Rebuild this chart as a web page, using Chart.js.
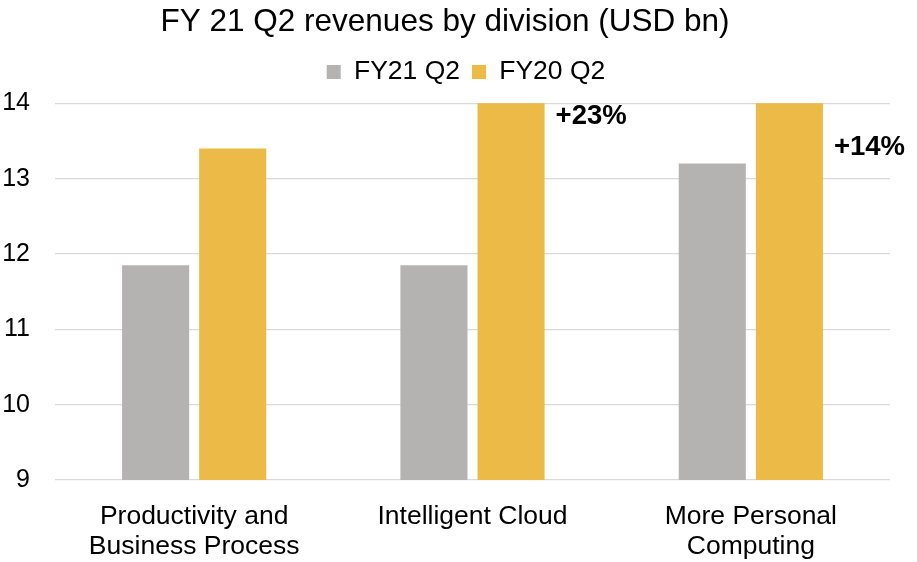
<!DOCTYPE html>
<html>
<head>
<meta charset="utf-8">
<script src="https://cdn.jsdelivr.net/npm/chart.js@4/dist/chart.umd.min.js"></script>
<style>
html,body{margin:0;padding:0;background:#fff;}
#wrap{width:917px;height:562px;}
</style>
</head>
<body>
<div id="wrap"><canvas id="c" width="917" height="562"></canvas></div>
<script>
const categories = [["Productivity and","Business Process"],"Intelligent Cloud",["More Personal","Computing"]];
const seriesNames = ["FY21 Q2","FY20 Q2"];
const grayValues = [11.85, 11.85, 13.2];
const goldValues = [13.4, 14.6, 15.1];
const annotationLabels = [null, "+23%", "+14%"];
const annotationValues = [null, 13.83, 13.42];
const yTicks = [9,10,11,12,13,14];

const FONT = "'Liberation Sans', Arial, Helvetica, sans-serif";

const annotPlugin = {
  id: 'annot',
  afterDatasetsDraw(chart) {
    const ctx = chart.ctx;
    const meta = chart.getDatasetMeta(1);
    const ys = chart.scales.y;
    ctx.save();
    ctx.font = "bold 27.5px " + FONT;
    ctx.fillStyle = "#000";
    ctx.textAlign = "left";
    ctx.textBaseline = "middle";
    annotationLabels.forEach((lab, i) => {
      if (!lab) return;
      const bar = meta.data[i];
      ctx.fillText(lab, bar.x + bar.width / 2 + 11, ys.getPixelForValue(annotationValues[i]));
    });
    ctx.restore();
  }
};

const legendGap = {
  id: 'legendGap',
  beforeInit(chart) {
    const orig = chart.legend.fit;
    chart.legend.fit = function () { orig.bind(chart.legend)(); this.height += 8; };
  },
  afterLayout(chart) {
    chart.legend.left += 42;
  }
};

new Chart(document.getElementById('c'), {
  type: 'bar',
  data: {
    labels: categories,
    datasets: [
      { label: seriesNames[0], data: grayValues, backgroundColor: '#b5b2b2', categoryPercentage: 0.554, barPercentage: 0.87 },
      { label: seriesNames[1], data: goldValues, backgroundColor: '#ecba46', categoryPercentage: 0.554, barPercentage: 0.87 }
    ]
  },
  options: {
    responsive: false,
    animation: false,
    layout: { padding: { left: 0, right: 27, top: 0, bottom: 0 } },
    plugins: {
      title: {
        display: true,
        text: "FY 21 Q2 revenues by division (USD bn)",
        color: '#000',
        font: { family: FONT, size: 31.5, weight: 'normal' },
        padding: { top: 3, bottom: 6 }
      },
      legend: {
        position: 'top',
        labels: {
          color: '#000',
          font: { family: FONT, size: 26.5 },
          boxWidth: 14, boxHeight: 14,
          padding: 12
        }
      },
      tooltip: { enabled: false }
    },
    scales: {
      x: {
        afterFit: (s) => { s.height = 82; },
        grid: { display: false },
        border: { display: false },
        ticks: { color: '#000', font: { family: FONT, size: 26.5, lineHeight: 1.15 }, padding: 13, maxRotation: 0, autoSkip: false }
      },
      y: {
        min: yTicks[0], max: yTicks[yTicks.length - 1],
        afterBuildTicks: (s) => { s.ticks = yTicks.map(v => ({ value: v })); },
        afterFit: (s) => { s.width = 55; },
        grid: { color: '#d9d9d9', drawTicks: false, lineWidth: 1.3 },
        border: { display: false },
        ticks: { color: '#000', font: { family: FONT, size: 25 }, padding: 25 }
      }
    }
  },
  plugins: [annotPlugin, legendGap]
});
</script>
</body>
</html>
